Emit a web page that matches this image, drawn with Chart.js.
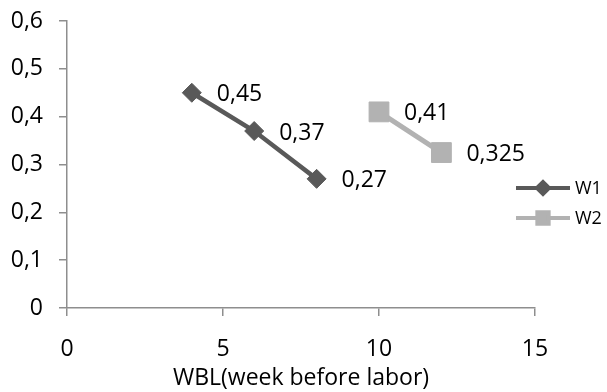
<!DOCTYPE html>
<html>
<head>
<meta charset="utf-8">
<script src="https://cdn.jsdelivr.net/npm/chart.js@4/dist/chart.umd.min.js"></script>
<style>
  html, body { margin: 0; padding: 0; background: #fff; }
  #wrap { width: 607px; height: 392px; }
</style>
</head>
<body>
<div id="wrap"><canvas id="wblChart" width="607" height="392"></canvas></div>
<script>
const seriesNames = ['W1', 'W2'];
const weeksW1 = [4, 6, 8];
const valuesW1 = [0.45, 0.37, 0.27];
const weeksW2 = [10, 12];
const valuesW2 = [0.41, 0.325];
const xTickValues = [0, 5, 10, 15];
const yTickValues = [0, 0.1, 0.2, 0.3, 0.4, 0.5, 0.6];

const FONT = "'Open Sans', 'Liberation Sans', sans-serif";
const FONT_SIZE = 23;
const LEGEND_FONT_SIZE = 18;
const AXIS_COLOR = '#8e8e8e';

function toComma(v) {
  return String(+v.toFixed(3)).replace('.', ',');
}

// Draw value labels to the right of each point
const valueLabels = {
  id: 'valueLabels',
  afterDatasetsDraw(chart) {
    const ctx = chart.ctx;
    ctx.save();
    ctx.font = FONT_SIZE + 'px ' + FONT;
    ctx.fillStyle = '#000';
    ctx.textBaseline = 'middle';
    ctx.textAlign = 'left';
    chart.data.datasets.forEach((ds, i) => {
      chart.getDatasetMeta(i).data.forEach((pt, j) => {
        ctx.fillText(toComma(ds.data[j].y), pt.x + 25, pt.y + 2);
      });
    });
    ctx.restore();
  }
};

// Excel-like legend sitting over the right edge of the plot
const sideLegend = {
  id: 'sideLegend',
  afterDraw(chart) {
    const ctx = chart.ctx;
    const area = chart.chartArea;
    const x0 = area.right - 19;
    const top = area.top + 167;
    ctx.save();
    chart.data.datasets.forEach((ds, i) => {
      const y = top + i * 30;
      ctx.strokeStyle = ds.borderColor;
      ctx.lineWidth = 4;
      ctx.beginPath();
      ctx.moveTo(x0, y);
      ctx.lineTo(x0 + 54, y);
      ctx.stroke();
      ctx.fillStyle = ds.borderColor;
      Chart.helpers.drawPoint(ctx, {
        pointStyle: ds.pointStyle,
        radius: ds.pointStyle === 'rect' ? 8 : 6,
        borderWidth: 1
      }, x0 + 27, y);
      ctx.fillStyle = '#000';
      ctx.font = LEGEND_FONT_SIZE + 'px ' + FONT;
      ctx.textBaseline = 'middle';
      ctx.fillText(ds.label, x0 + 59, y + 1);
    });
    ctx.restore();
  }
};

const ctx = document.getElementById('wblChart').getContext('2d');
new Chart(ctx, {
  type: 'scatter',
  data: {
    datasets: [
      {
        label: seriesNames[0],
        data: weeksW1.map((x, i) => ({ x, y: valuesW1[i] })),
        showLine: true,
        borderColor: '#595959',
        backgroundColor: '#595959',
        borderWidth: 4.5,
        pointStyle: 'rectRot',
        pointRadius: 9.5,
        pointBorderWidth: 1
      },
      {
        label: seriesNames[1],
        data: weeksW2.map((x, i) => ({ x, y: valuesW2[i] })),
        showLine: true,
        borderColor: '#b2b2b2',
        backgroundColor: '#b2b2b2',
        borderWidth: 5,
        pointStyle: 'rect',
        pointRadius: 14,
        pointBorderWidth: 1
      }
    ]
  },
  options: {
    responsive: false,
    animation: false,
    layout: { padding: { top: 21, right: 72, bottom: 0, left: 0 } },
    plugins: {
      legend: { display: false },
      tooltip: { enabled: false }
    },
    scales: {
      x: {
        type: 'linear',
        min: 0,
        max: 15,
        afterBuildTicks: (scale) => { scale.ticks = xTickValues.map(v => ({ value: v })); },
        afterFit: (scale) => { scale.height = 84; },
        border: { color: AXIS_COLOR, width: 1.5 },
        grid: { drawOnChartArea: false, drawTicks: true, tickLength: 8, color: AXIS_COLOR, lineWidth: 1.5 },
        ticks: { color: '#000', font: { family: FONT, size: FONT_SIZE }, padding: 20, maxRotation: 0 },
        title: { display: true, text: 'WBL(week before labor)', color: '#000', font: { family: FONT, size: FONT_SIZE }, padding: 0 }
      },
      y: {
        min: 0,
        max: 0.6,
        afterBuildTicks: (scale) => { scale.ticks = yTickValues.map(v => ({ value: v })); },
        afterFit: (scale) => {
          scale.width = 67;
          scale.paddingTop = 0;
          scale.paddingBottom = 0;
        },
        border: { color: AXIS_COLOR, width: 1.5 },
        grid: { drawOnChartArea: false, drawTicks: true, tickLength: 8, color: AXIS_COLOR, lineWidth: 1.5 },
        ticks: { color: '#000', font: { family: FONT, size: FONT_SIZE }, padding: 16, callback: (v) => toComma(v) }
      }
    }
  },
  plugins: [valueLabels, sideLegend]
});
</script>
</body>
</html>
